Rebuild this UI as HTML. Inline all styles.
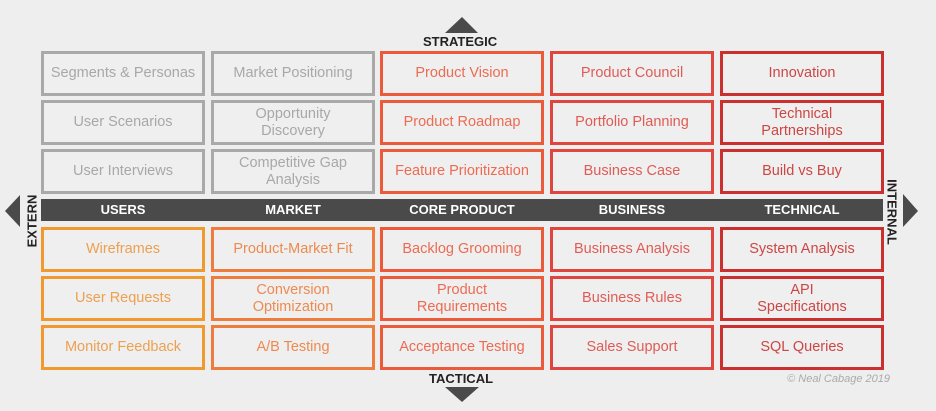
<!DOCTYPE html>
<html><head><style>
body{margin:0;width:936px;height:411px;background:#eeeeee;position:relative;overflow:hidden;font-family:"Liberation Sans",sans-serif}
.b{position:absolute;box-sizing:border-box;border:3px solid;width:164px;height:45px;display:flex;align-items:center;justify-content:center;text-align:center;font-size:14.5px;line-height:17px;background:#efefef}
.g{border-color:#a9a9a9;color:#a8a8a8}
.o1{border-color:#f0992f;color:#eda050}
.o2{border-color:#ee7d3d;color:#ee8a50}
.r1{border-color:#ec5a3c;color:#ec6b52}
.r2{border-color:#df4640;color:#df5c56}
.r3{border-color:#c9302e;color:#cc4644}
.bar{position:absolute;left:41px;top:199px;width:842px;height:22px;background:#4a4a4a}
.h{position:absolute;top:199px;height:22px;line-height:22px;width:164px;text-align:center;color:#fff;font-weight:bold;font-size:13px}
.lab{position:absolute;font-weight:bold;font-size:13px;color:#222}
</style></head><body>
<svg style="position:absolute;left:0;top:0" width="936" height="411">
<polygon points="445,33 478,33 462,17" fill="#4a4a4a"/>
<polygon points="445,387 479,387 462,402" fill="#4a4a4a"/>
<polygon points="20,195 20,227 5,211" fill="#4a4a4a"/>
<polygon points="903,194 903,227 918,211" fill="#4a4a4a"/>
</svg>
<div class="lab" style="left:423px;top:34px">STRATEGIC</div>
<div class="lab" style="left:429px;top:371px">TACTICAL</div>
<div class="lab" style="left:32px;top:221px;transform:translate(-50%,-50%) rotate(-90deg)">EXTERN</div>
<div class="lab" style="left:892px;top:212px;transform:translate(-50%,-50%) rotate(90deg)">INTERNAL</div>
<div class="bar"></div>
<div class="h" style="left:41px">USERS</div>
<div class="h" style="left:211px">MARKET</div>
<div class="h" style="left:380px">CORE PRODUCT</div>
<div class="h" style="left:550px">BUSINESS</div>
<div class="h" style="left:720px">TECHNICAL</div>

<div class="b g" style="left:41px;top:51px">Segments &amp; Personas</div>
<div class="b g" style="left:211px;top:51px">Market Positioning</div>
<div class="b r1" style="left:380px;top:51px">Product Vision</div>
<div class="b r2" style="left:550px;top:51px">Product Council</div>
<div class="b r3" style="left:720px;top:51px">Innovation</div>

<div class="b g" style="left:41px;top:100px">User Scenarios</div>
<div class="b g" style="left:211px;top:100px">Opportunity<br>Discovery</div>
<div class="b r1" style="left:380px;top:100px">Product Roadmap</div>
<div class="b r2" style="left:550px;top:100px">Portfolio Planning</div>
<div class="b r3" style="left:720px;top:100px">Technical<br>Partnerships</div>

<div class="b g" style="left:41px;top:149px">User Interviews</div>
<div class="b g" style="left:211px;top:149px">Competitive Gap<br>Analysis</div>
<div class="b r1" style="left:380px;top:149px">Feature Prioritization</div>
<div class="b r2" style="left:550px;top:149px">Business Case</div>
<div class="b r3" style="left:720px;top:149px">Build vs Buy</div>

<div class="b o1" style="left:41px;top:227px">Wireframes</div>
<div class="b o2" style="left:211px;top:227px">Product-Market Fit</div>
<div class="b r1" style="left:380px;top:227px">Backlog Grooming</div>
<div class="b r2" style="left:550px;top:227px">Business Analysis</div>
<div class="b r3" style="left:720px;top:227px">System Analysis</div>

<div class="b o1" style="left:41px;top:276px">User Requests</div>
<div class="b o2" style="left:211px;top:276px">Conversion<br>Optimization</div>
<div class="b r1" style="left:380px;top:276px">Product<br>Requirements</div>
<div class="b r2" style="left:550px;top:276px">Business Rules</div>
<div class="b r3" style="left:720px;top:276px">API<br>Specifications</div>

<div class="b o1" style="left:41px;top:325px">Monitor Feedback</div>
<div class="b o2" style="left:211px;top:325px">A/B Testing</div>
<div class="b r1" style="left:380px;top:325px">Acceptance Testing</div>
<div class="b r2" style="left:550px;top:325px">Sales Support</div>
<div class="b r3" style="left:720px;top:325px">SQL Queries</div>

<div style="position:absolute;left:775px;top:373px;width:115px;text-align:right;font-size:11px;font-style:italic;color:#aaa">© Neal Cabage 2019</div>
</body></html>
